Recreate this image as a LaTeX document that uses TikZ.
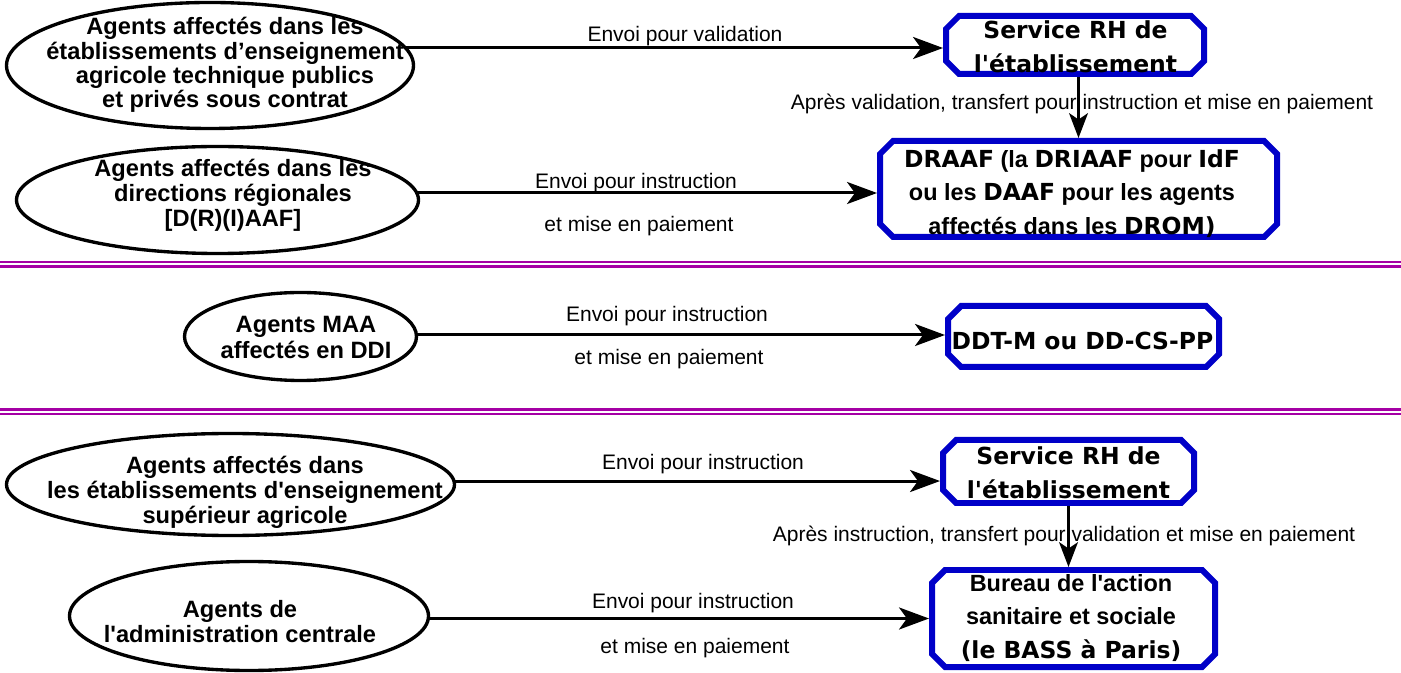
\documentclass[tikz,border=0pt]{standalone}
\usepackage{fontspec}
\setmainfont{Liberation Sans}[Ligatures=TeXOff]
\newfontfamily\dv{DejaVu Sans}[Ligatures=TeXOff]
\usetikzlibrary{arrows.meta,backgrounds,shapes.geometric}
\definecolor{boxblue}{RGB}{0,0,200}
\definecolor{seppurple}{RGB}{165,0,165}
\newcommand\px[1]{#1*0.5669pt}
\tikzset{
  ell/.style={ellipse, draw, line width=1.9pt, fill=white, inner sep=0pt},
  elltext/.style={font=\fontsize{13.4pt}{14.4pt}\selectfont\bfseries, align=center, inner sep=0pt},
  boxtext/.style={font=\fontsize{13.3pt}{19pt}\selectfont\bfseries, align=center, inner sep=0pt},
  lbl/.style={font=\fontsize{11.9pt}{14pt}\selectfont, anchor=base, inner sep=0pt},
  boxnode/.style={rectangle, inner sep=0pt, outer sep=1.7pt},
  octo/.style={draw=boxblue, line width=3.4pt},
  harr/.style={line width=1.7pt, -{Stealth[length=17pt,width=12.5pt,inset=4.5pt]}},
  varr/.style={line width=1.7pt, -{Stealth[length=14pt,width=10.6pt,inset=3.5pt]}},
  sepline/.style={draw=seppurple, line width=1.4pt},
}
\newcommand\octbox[5]{%
  \node[boxnode, minimum width=\px{#4}, minimum height=\px{#5}] (#1) at (#2,#3) {};
  \draw[octo] ({#2-#4/2+13},{#3-#5/2}) -- ({#2+#4/2-13},{#3-#5/2}) -- ({#2+#4/2},{#3-#5/2+13}) -- ({#2+#4/2},{#3+#5/2-13}) -- ({#2+#4/2-13},{#3+#5/2}) -- ({#2-#4/2+13},{#3+#5/2}) -- ({#2-#4/2},{#3+#5/2-13}) -- ({#2-#4/2},{#3-#5/2+13}) -- cycle;
}
\begin{document}
\begin{tikzpicture}[x=0.5669pt,y=-0.5669pt]
\useasboundingbox (0,0) rectangle (1401,673);
\begin{pgfonlayer}{background}
  \fill[white] (0,0) rectangle (1401,673);
\end{pgfonlayer}
% separators
\draw[sepline] (0,262) -- (1401,262);
\draw[sepline] (0,266.5) -- (1401,266.5);
\draw[sepline] (0,409.5) -- (1401,409.5);
\draw[sepline] (0,414) -- (1401,414);
% ellipses
\node[ell, minimum width=\px{407}, minimum height=\px{126}] (e1) at (210,65.5) {};
\node[ell, minimum width=\px{402}, minimum height=\px{107}] (e2) at (217.5,200) {};
\node[ell, minimum width=\px{232}, minimum height=\px{88}] (e3) at (300.5,336.5) {};
\node[ell, minimum width=\px{448}, minimum height=\px{102}] (e4) at (230.5,484.5) {};
\node[ell, minimum width=\px{359}, minimum height=\px{109}] (e5) at (249,616) {};
\node[elltext, font=\fontsize{13.4pt}{13.8pt}\selectfont\bfseries] (t1) at (225,65.25) {Agents affectés dans les\\établissements d’enseignement\\agricole technique publics\\et privés sous contrat};
\node[elltext] (t2) at (233,195.25) {Agents affectés dans les\\directions régionales\\{[D(R)(I)AAF]}};
\node[elltext] (t3) at (306,337.5) {Agents MAA\\affectés en DDI};
\node[elltext] (t4) at (245,492.25) {Agents affectés dans\\les établissements d'enseignement\\supérieur agricole};
\node[elltext] (t5) at (240,621.5) {Agents de\\l'administration centrale};
% boxes
\octbox{b1}{1075}{45}{258}{58}
\octbox{b2}{1078.5}{189}{397}{96}
\octbox{b3}{1083.5}{336.5}{271}{61}
\octbox{b4}{1068.5}{471.5}{251}{63}
\octbox{b5}{1073.5}{618.5}{283}{97}
\node[boxtext, font=\fontsize{13.3pt}{19pt}\selectfont\bfseries\dv] (bt1) at (1075.5,47) {Service RH de\\l'établissement};
\node[boxtext] (bt2) at (1072,193.5) {{\dv DRAAF} (la {\dv DRIAAF} pour {\dv IdF}\\ou les {\dv DAAF} pour les agents\\affectés dans les {\dv DROM)}};
\node[boxtext, font=\fontsize{13.3pt}{19pt}\selectfont\bfseries\dv] (bt3) at (1082.5,340.5) {DDT-M ou DD-CS-PP};
\node[boxtext, font=\fontsize{13.3pt}{19pt}\selectfont\bfseries\dv] (bt4) at (1068.5,472.5) {Service RH de\\l'établissement};
\node[boxtext] (bt5) at (1071,618) {Bureau de l'action\\sanitaire et sociale\\{\dv (le BASS à Paris)}};
% labels
\node[lbl] (l1) at (685,42) {Envoi pour validation};
\node[lbl] (l2a) at (636,189) {Envoi pour instruction};
\node[lbl] (l2b) at (639,232) {et mise en paiement};
\node[lbl] (l3a) at (667,322) {Envoi pour instruction};
\node[lbl] (l3b) at (669,365) {et mise en paiement};
\node[lbl] (l4) at (703,470) {Envoi pour instruction};
\node[lbl] (l5a) at (693,609) {Envoi pour instruction};
\node[lbl] (l5b) at (695,653) {et mise en paiement};
\node[lbl] (v1) at (1082,110) {Après validation, transfert pour instruction et mise en paiement};
\node[lbl] (v2) at (1064,542) {Après instruction, transfert pour validation et mise en paiement};
% connectors
\coordinate (h1) at ([yshift=-1.7pt]b1.west);
\coordinate (h2) at ([yshift=-2.27pt]b2.west);
\coordinate (h3) at ([yshift=0.85pt]b3.west);
\coordinate (h4) at ([yshift=-5.4pt]b4.west);
\coordinate (h5) at (b5.west);
\begin{pgfonlayer}{background}
  \draw[harr] (h1 -| e1.center) -- (h1);
  \draw[harr] (h2 -| e2.center) -- (h2);
  \draw[harr] (h3 -| e3.center) -- (h3);
  \draw[harr] (h4 -| e4.center) -- (h4);
  \draw[harr] (h5 -| e5.center) -- (h5);
\end{pgfonlayer}
\draw[varr] (b2.north |- b1.south) -- (b2.north);
\draw[varr] (b4.south) -- (b4.south |- b5.north);
\end{tikzpicture}
\end{document}
